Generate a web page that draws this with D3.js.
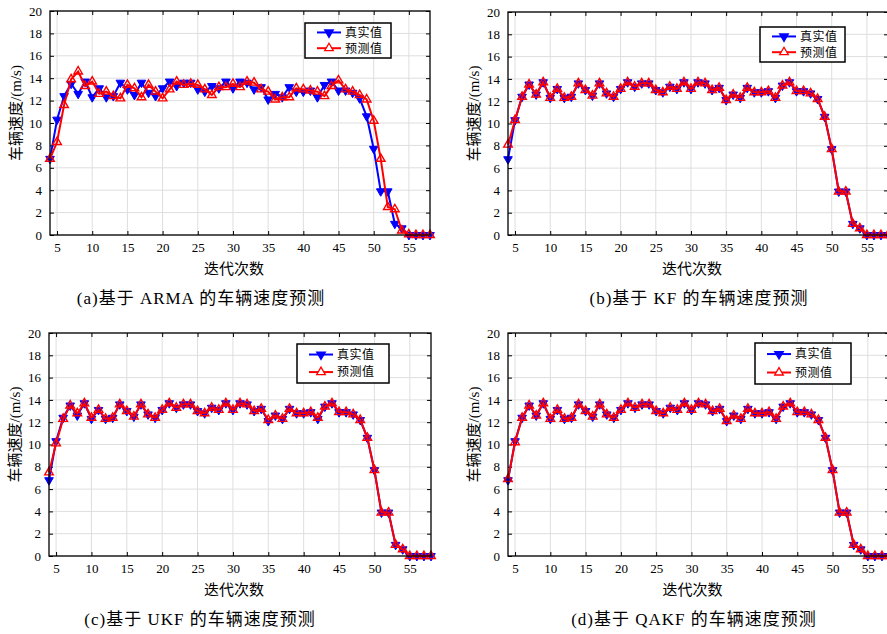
<!DOCTYPE html>
<meta charset="utf-8">
<script src="https://d3js.org/d3.v7.min.js"></script>
<style>
  body { margin: 0; background: #fff; }
</style>
<div id="my_dataviz"></div>
<script>

// iteration index (x axis)
var iters = [4, 5, 6, 7, 8, 9, 10, 11, 12, 13,
  14, 15, 16, 17, 18, 19, 20, 21, 22, 23,
  24, 25, 26, 27, 28, 29, 30, 31, 32, 33,
  34, 35, 36, 37, 38, 39, 40, 41, 42, 43,
  44, 45, 46, 47, 48, 49, 50, 51, 52, 53,
  54, 55, 56, 57, 58];

// true vehicle speed (m/s)
var trueSpeed = [6.8, 10.3, 12.4, 13.5, 12.6, 13.7, 12.3, 13.1, 12.3, 12.4,
  13.6, 13.0, 12.5, 13.6, 12.7, 12.4, 13.1, 13.7, 13.3, 13.6,
  13.6, 13.0, 12.8, 13.3, 13.1, 13.7, 13.1, 13.7, 13.6, 13.0,
  13.2, 12.1, 12.6, 12.3, 13.2, 12.8, 12.8, 12.9, 12.3, 13.4,
  13.7, 12.9, 12.9, 12.7, 12.2, 10.6, 7.7, 3.9, 3.9, 1.0,
  0.6, 0, 0, 0, 0];

// predicted speeds
var armaPred = [6.8, 8.3, 11.6, 13.9, 14.6, 13.3, 13.7, 12.6, 12.8, 12.4,
  12.2, 13.4, 13.1, 12.3, 13.4, 12.8, 12.2, 13.0, 13.7, 13.4,
  13.5, 13.4, 13.0, 12.5, 13.2, 13.2, 13.5, 13.2, 13.7, 13.6,
  13.0, 12.8, 12.1, 12.3, 12.3, 13.1, 13.0, 12.9, 12.8, 12.4,
  13.3, 13.8, 13.0, 12.8, 12.5, 12.1, 10.2, 6.8, 2.5, 2.3,
  0.4, 0.05, 0, 0, 0];

var kfPred = [8.1, 10.3, 12.4, 13.5, 12.6, 13.7, 12.3, 13.1, 12.3, 12.4,
  13.6, 13.0, 12.5, 13.6, 12.7, 12.4, 13.1, 13.7, 13.3, 13.6,
  13.6, 13.0, 12.8, 13.3, 13.1, 13.7, 13.1, 13.7, 13.6, 13.0,
  13.2, 12.1, 12.6, 12.3, 13.2, 12.8, 12.8, 12.9, 12.3, 13.4,
  13.7, 12.9, 12.9, 12.7, 12.2, 10.6, 7.7, 3.9, 3.9, 1.0,
  0.6, 0, 0, 0, 0];

var ukfPred = [7.5, 10.1, 12.3, 13.5, 12.8, 13.7, 12.4, 13.1, 12.3, 12.4,
  13.6, 13.0, 12.5, 13.6, 12.7, 12.4, 13.1, 13.7, 13.3, 13.6,
  13.6, 13.0, 12.8, 13.3, 13.1, 13.7, 13.1, 13.7, 13.6, 13.0,
  13.2, 12.2, 12.6, 12.3, 13.2, 12.8, 12.8, 12.9, 12.4, 13.4,
  13.7, 12.9, 12.9, 12.7, 12.2, 10.6, 7.7, 3.9, 3.9, 1.0,
  0.6, 0, 0, 0, 0];

var qakfPred = [6.9, 10.2, 12.4, 13.5, 12.6, 13.7, 12.3, 13.1, 12.3, 12.4,
  13.6, 13.0, 12.5, 13.6, 12.7, 12.4, 13.1, 13.7, 13.3, 13.6,
  13.6, 13.0, 12.8, 13.3, 13.1, 13.7, 13.1, 13.7, 13.6, 13.0,
  13.2, 12.1, 12.6, 12.3, 13.2, 12.8, 12.8, 12.9, 12.3, 13.4,
  13.7, 12.9, 12.9, 12.7, 12.2, 10.6, 7.7, 3.9, 3.9, 1.0,
  0.6, 0, 0, 0, 0];

var xTicks = [5, 10, 15, 20, 25, 30, 35, 40, 45, 50, 55];
var yTicks = [0, 2, 4, 6, 8, 10, 12, 14, 16, 18, 20];
var legendNames = ["真实值", "预测值"];
var captions = ["(a)基于 ARMA 的车辆速度预测", "(b)基于 KF 的车辆速度预测",
                "(c)基于 UKF 的车辆速度预测", "(d)基于 QAKF 的车辆速度预测"];
var preds = [armaPred, kfPred, ukfPred, qakfPred];

// panel layout (pixel boxes)
var panels = [
  {l: 50,  r: 430, t: 11,  b: 235, lg: {x: 305, y: 23,  w: 86, h: 35}, cx: 201},
  {l: 508, r: 888, t: 12,  b: 235, lg: {x: 760, y: 27,  w: 85, h: 35}, cx: 699},
  {l: 49,  r: 431, t: 333, b: 556, lg: {x: 297, y: 344, w: 92, h: 39}, cx: 200},
  {l: 508, r: 889, t: 333, b: 556, lg: {x: 755, y: 343, w: 96, h: 41}, cx: 694}
];

var W = 887, H = 634;
var serif = "'Liberation Serif', 'Noto Sans CJK SC', serif";
var cjk = "'Noto Sans CJK SC', sans-serif";

var svg = d3.select("#my_dataviz")
  .append("svg")
    .attr("width", W)
    .attr("height", H);

var triUp = d3.symbol().type(d3.symbolTriangle).size(32);

function drawPanel(p, pred, caption) {
  var x = d3.scaleLinear().domain([4, 58]).range([p.l, p.r]);
  var y = d3.scaleLinear().domain([0, 20]).range([p.b, p.t]);
  var g = svg.append("g");

  // grid
  g.selectAll(".gx").data(xTicks).enter().append("line")
    .attr("x1", function(d) { return x(d); }).attr("x2", function(d) { return x(d); })
    .attr("y1", p.t).attr("y2", p.b)
    .attr("stroke", "#dedede").attr("stroke-width", 1);
  g.selectAll(".gy").data(yTicks).enter().append("line")
    .attr("x1", p.l).attr("x2", p.r)
    .attr("y1", function(d) { return y(d); }).attr("y2", function(d) { return y(d); })
    .attr("stroke", "#dedede").attr("stroke-width", 1);

  // axes (ticks inward)
  g.append("g").attr("transform", "translate(0," + p.b + ")")
    .call(d3.axisBottom(x).tickValues(xTicks).tickSize(-4).tickPadding(8))
    .call(styleAxis);
  g.append("g").attr("transform", "translate(" + p.l + ",0)")
    .call(d3.axisLeft(y).tickValues(yTicks).tickSize(-4).tickPadding(8))
    .call(styleAxis);
  g.append("g").attr("transform", "translate(0," + p.t + ")")
    .call(d3.axisTop(x).tickValues(xTicks).tickSize(-4).tickFormat(""))
    .call(styleAxis);
  g.append("g").attr("transform", "translate(" + p.r + ",0)")
    .call(d3.axisRight(y).tickValues(yTicks).tickSize(-4).tickFormat(""))
    .call(styleAxis);

  // series: true (blue, down triangles) then predicted (red, hollow up triangles)
  var line = d3.line()
    .x(function(d, i) { return x(iters[i]); })
    .y(function(d) { return y(d); });

  g.append("path").datum(trueSpeed)
    .attr("d", line).attr("fill", "none")
    .attr("stroke", "#0000ff").attr("stroke-width", 2);
  g.selectAll(".mt").data(trueSpeed).enter().append("path")
    .attr("d", triUp)
    .attr("transform", function(d, i) { return "translate(" + x(iters[i]) + "," + y(d) + ") rotate(180)"; })
    .attr("fill", "#0000ff").attr("stroke", "#0000ff").attr("stroke-width", 1);

  g.append("path").datum(pred)
    .attr("d", line).attr("fill", "none")
    .attr("stroke", "#ff0000").attr("stroke-width", 2);
  g.selectAll(".mp").data(pred).enter().append("path")
    .attr("d", triUp)
    .attr("transform", function(d, i) { return "translate(" + x(iters[i]) + "," + y(d) + ")"; })
    .attr("fill", "none").attr("stroke", "#ff0000").attr("stroke-width", 1.4);

  // frame
  g.append("rect")
    .attr("x", p.l).attr("y", p.t)
    .attr("width", p.r - p.l).attr("height", p.b - p.t)
    .attr("fill", "none").attr("stroke", "#000").attr("stroke-width", 1.3);

  // legend
  var lg = g.append("g").attr("transform", "translate(" + p.lg.x + "," + p.lg.y + ")");
  lg.append("rect").attr("width", p.lg.w).attr("height", p.lg.h)
    .attr("fill", "#fff").attr("stroke", "#000").attr("stroke-width", 1.5);
  var rowY = [p.lg.h * 0.27, p.lg.h * 0.72];
  var colors = ["#0000ff", "#ff0000"];
  legendNames.forEach(function(name, k) {
    lg.append("line")
      .attr("x1", 12).attr("x2", 36)
      .attr("y1", rowY[k]).attr("y2", rowY[k])
      .attr("stroke", colors[k]).attr("stroke-width", 2);
    lg.append("path").attr("d", triUp)
      .attr("transform", "translate(24," + rowY[k] + ")" + (k === 0 ? " rotate(180)" : ""))
      .attr("fill", k === 0 ? colors[k] : "#fff")
      .attr("stroke", colors[k]).attr("stroke-width", 1.3);
    lg.append("text")
      .attr("x", 40).attr("y", rowY[k]).attr("dy", "0.36em")
      .attr("font-family", cjk).attr("font-size", 12)
      .attr("letter-spacing", 0.5)
      .text(name);
  });

  // axis titles
  g.append("text")
    .attr("x", (p.l + p.r) / 2 - 6).attr("y", p.b + 39)
    .attr("text-anchor", "middle")
    .attr("font-family", cjk).attr("font-size", 15)
    .text("迭代次数");
  g.append("text")
    .attr("transform", "translate(" + (p.l - 29) + "," + ((p.t + p.b) / 2 - 10) + ") rotate(-90)")
    .attr("text-anchor", "middle")
    .attr("font-family", serif).attr("font-size", 15)
    .text("车辆速度/(m/s)");

  // caption
  g.append("text")
    .attr("x", p.cx).attr("y", p.b + 69)
    .attr("text-anchor", "middle")
    .attr("font-family", serif).attr("font-size", 17)
    .attr("letter-spacing", 1)
    .text(caption);
}

function styleAxis(sel) {
  sel.select(".domain").remove();
  sel.selectAll(".tick line").attr("stroke", "#000").attr("stroke-width", 1);
  sel.selectAll(".tick text")
    .attr("font-family", serif).attr("font-size", 13).attr("fill", "#000");
}

panels.forEach(function(p, i) {
  drawPanel(p, preds[i], captions[i]);
});

</script>
